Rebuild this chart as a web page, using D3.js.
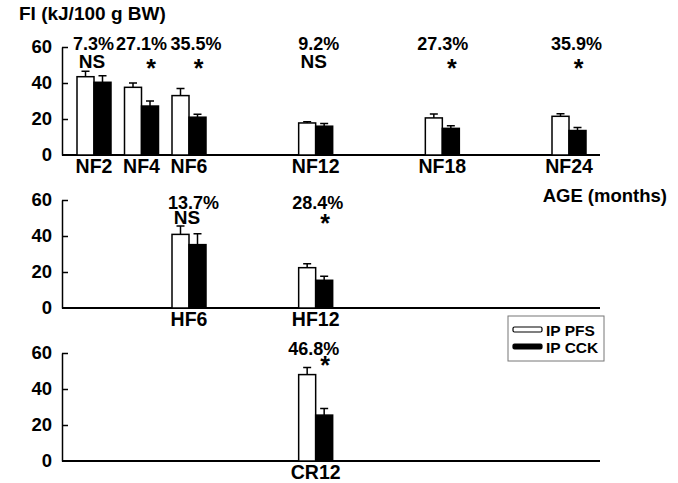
<!DOCTYPE html>
<meta charset="utf-8">
<style>
  body { margin: 0; background: #fff; }
  svg { display: block; font-family: "Liberation Sans", Arial, sans-serif; font-weight: bold; }
  .bar { stroke: #000; stroke-width: 1.5px; }
  .err { stroke: #000; stroke-width: 1.5px; fill: none; }
  .axis path, .axis line { stroke: #000; stroke-width: 1.5px; }
  .axis text { font-size: 18.5px; font-weight: bold; fill: #000; font-family: "Liberation Sans", Arial, sans-serif; }
</style>
<body>
<script src="https://cdn.jsdelivr.net/npm/d3@7"></script>
<script>
// values
const categories = ["NF2", "NF4", "NF6", "NF12", "NF18", "NF24", "HF6", "HF12", "CR12"];
const ages = [2, 4, 6, 12, 18, 24, 6, 12, 12];
const panelOf = [0, 0, 0, 0, 0, 0, 1, 1, 2];
const pfsMean = [43.5, 37.6, 33.0, 17.8, 20.6, 21.5, 40.9, 22.4, 48.0];
const pfsSE = [3.0, 2.4, 4.0, 0.7, 2.2, 1.4, 4.7, 2.2, 4.0];
const cckMean = [40.4, 27.2, 21.0, 16.0, 14.8, 13.6, 35.2, 15.4, 25.5];
const cckSE = [3.6, 2.8, 1.6, 1.5, 1.5, 1.7, 6.0, 2.2, 3.7];
const pctLabels = ["7.3%", "27.1%", "35.5%", "9.2%", "27.3%", "35.9%", "13.7%", "28.4%", "46.8%"];
const sigLabels = ["NS", "*", "*", "NS", "*", "*", "NS", "*", "*"];
const yTicks = [0, 20, 40, 60];
const seriesNames = ["IP PFS", "IP CCK"];

const W = 678, H = 483;
const svg = d3.select("body").append("svg").attr("width", W).attr("height", H);

const axisX = 62, axisEnd = 600;
const panelBase = [155, 308, 461];
const panelH = 108;
// annotation layout, per panel (offsets below the 60 line)
const pctDy = [3, 8.5, 2];
const nsDy = [21, 23.5, 21];
const starDy = [30, 31.5, 21];
// horizontal nudges of the percent labels, as placed in the figure
const pctNudge = [-0.5, 0, 7, 3, 0.5, 7.5, 4.5, 2, -2];

const x = d3.scaleLinear().domain([2, 6, 24]).range([94, 189, 569]);
const sub = d3.scaleBand().domain(seriesNames).range([-17, 17]);
const ys = panelBase.map(b => d3.scaleLinear().domain([0, 60]).range([b, b - panelH]));

const rows = categories.map((c, i) => ({
  cat: c, age: ages[i], p: panelOf[i], nudge: pctNudge[i],
  vals: [
    { s: seriesNames[0], m: pfsMean[i], se: pfsSE[i], fill: "#fff" },
    { s: seriesNames[1], m: cckMean[i], se: cckSE[i], fill: "#000" }
  ],
  pct: pctLabels[i], sig: sigLabels[i]
}));

// axes
ys.forEach(y => {
  const g = svg.append("g").attr("class", "axis")
    .attr("transform", `translate(${axisX},0)`)
    .call(d3.axisLeft(y).tickValues(yTicks).tickSizeInner(-6).tickSizeOuter(0).tickPadding(10));
  g.selectAll(".tick").filter(d => d === 0).select("line").remove();
  svg.append("line")
    .attr("x1", axisX).attr("x2", axisEnd)
    .attr("y1", y(0)).attr("y2", y(0))
    .attr("stroke", "#000").attr("stroke-width", 2);
});

// bars + error bars + labels
const grp = svg.selectAll("g.grp").data(rows).join("g").attr("class", "grp");
grp.each(function(r) {
  const y = ys[r.p];
  const g = d3.select(this);
  r.vals.forEach(v => {
    const bx = x(r.age) + sub(v.s);
    const cx = bx + sub.bandwidth() / 2;
    g.append("path").attr("class", "err")
      .attr("d", `M${cx},${y(v.m)}V${y(v.m + v.se)}M${cx - 4},${y(v.m + v.se)}H${cx + 4}`);
    g.append("rect").attr("class", "bar")
      .attr("x", bx).attr("width", sub.bandwidth())
      .attr("y", y(v.m)).attr("height", y(0) - y(v.m))
      .attr("fill", v.fill);
  });
  const top = y(60);
  g.append("text").attr("x", x(r.age) + r.nudge).attr("y", top + pctDy[r.p])
    .attr("text-anchor", "middle").attr("font-size", 18).text(r.pct);
  if (r.sig === "NS") {
    g.append("text").attr("x", x(r.age) - 2).attr("y", top + nsDy[r.p])
      .attr("text-anchor", "middle").attr("font-size", 19).text("NS");
  } else {
    g.append("text").attr("x", x(r.age) + sub(seriesNames[1]) + sub.bandwidth() / 2 + 1)
      .attr("y", top + starDy[r.p])
      .attr("text-anchor", "middle").attr("font-size", 25).text("*");
  }
  g.append("text").attr("x", x(r.age)).attr("y", y(0) + 18)
    .attr("text-anchor", "middle").attr("font-size", 19.5).text(r.cat);
});

// titles
svg.append("text").attr("x", 19).attr("y", 20).attr("font-size", 19).text("FI (kJ/100 g BW)");
svg.append("text").attr("x", 667).attr("y", 202).attr("text-anchor", "end")
  .attr("font-size", 18.5).text("AGE (months)");

// legend
const lg = svg.append("g").attr("transform", "translate(508,316)");
lg.append("rect").attr("width", 96).attr("height", 45)
  .attr("fill", "#fff").attr("stroke", "#777").attr("stroke-width", 1);
seriesNames.forEach((s, i) => {
  const yy = 14 + i * 17;
  lg.append("rect").attr("x", 5).attr("y", yy - 3).attr("width", 29).attr("height", 5)
    .attr("rx", 1.5)
    .attr("fill", i ? "#000" : "#fff").attr("stroke", "#000").attr("stroke-width", 1.2);
  lg.append("text").attr("x", 38).attr("y", yy + 6).attr("font-size", 15.5).text(s);
});
</script>
</body>
